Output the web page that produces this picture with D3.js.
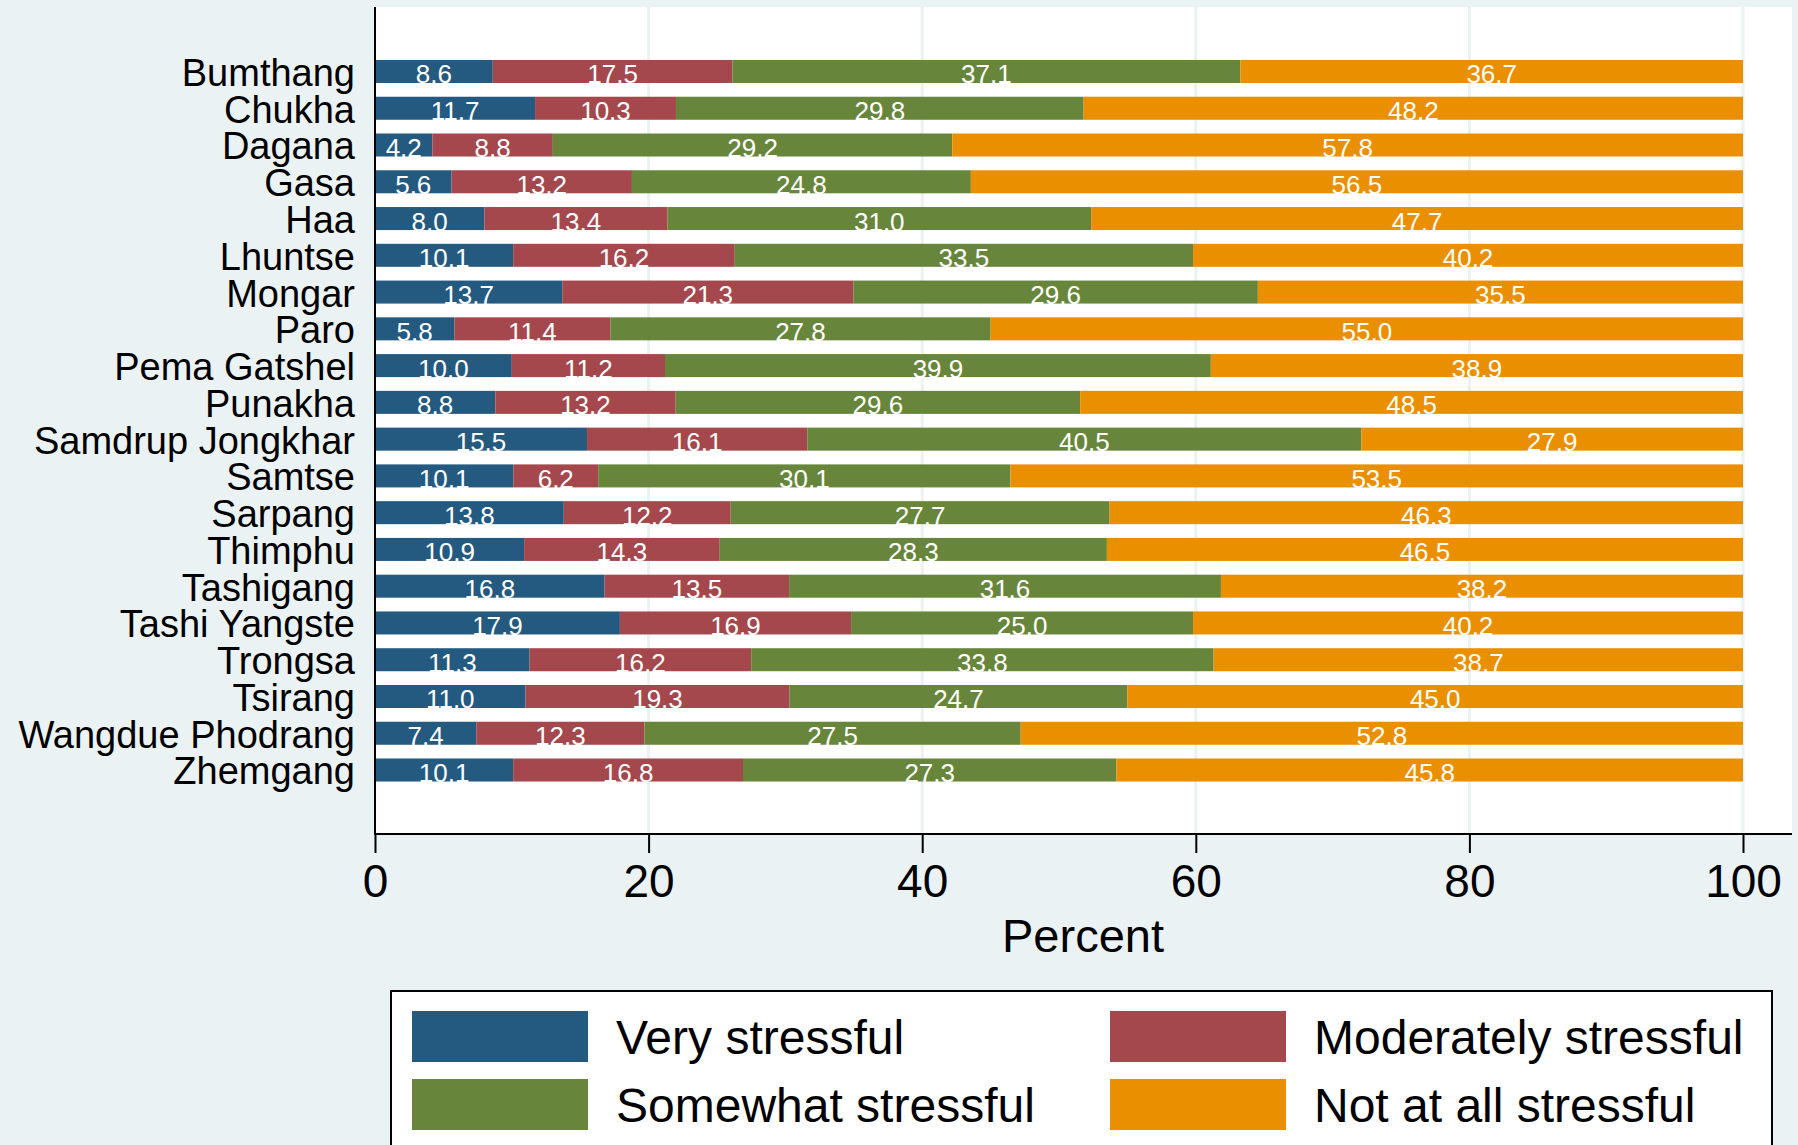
<!DOCTYPE html>
<html>
<head>
<meta charset="utf-8">
<script src="https://cdn.jsdelivr.net/npm/d3@7"></script>
<style>
  html, body { margin: 0; padding: 0; background: #eaf2f3; }
  svg { display: block; font-family: "Liberation Sans", Arial, Helvetica, sans-serif; }
</style>
</head>
<body>
<svg id="chart" width="1798" height="1145"></svg>
<script>
const categories = ["Bumthang","Chukha","Dagana","Gasa","Haa","Lhuntse","Mongar","Paro","Pema Gatshel","Punakha","Samdrup Jongkhar","Samtse","Sarpang","Thimphu","Tashigang","Tashi Yangste","Trongsa","Tsirang","Wangdue Phodrang","Zhemgang"];
const seriesNames = ["Very stressful","Moderately stressful","Somewhat stressful","Not at all stressful"];
const veryStressful       = [8.6,11.7,4.2,5.6,8.0,10.1,13.7,5.8,10.0,8.8,15.5,10.1,13.8,10.9,16.8,17.9,11.3,11.0,7.4,10.1];
const moderatelyStressful = [17.5,10.3,8.8,13.2,13.4,16.2,21.3,11.4,11.2,13.2,16.1,6.2,12.2,14.3,13.5,16.9,16.2,19.3,12.3,16.8];
const somewhatStressful   = [37.1,29.8,29.2,24.8,31.0,33.5,29.6,27.8,39.9,29.6,40.5,30.1,27.7,28.3,31.6,25.0,33.8,24.7,27.5,27.3];
const notAtAllStressful   = [36.7,48.2,57.8,56.5,47.7,40.2,35.5,55.0,38.9,48.5,27.9,53.5,46.3,46.5,38.2,40.2,38.7,45.0,52.8,45.8];
const xTicks = [0,20,40,60,80,100];
const xLabel = "Percent";

const colors = ["#245a80","#a4484e","#67863b","#ea8f00"];
const seriesValues = [veryStressful, moderatelyStressful, somewhatStressful, notAtAllStressful];

const rows = categories.map((c, i) => {
  const r = { cat: c };
  seriesNames.forEach((s, j) => r[s] = seriesValues[j][i]);
  return r;
});
// percentages (rounded in the source) are normalised so each bar spans 0-100
const stacked = d3.stack().keys(seriesNames).offset(d3.stackOffsetExpand)(rows);

const svg = d3.select("#chart");
const plotLeft = 375, plotRight = 1792, plotTop = 7, plotBottom = 834;

const x = d3.scaleLinear().domain([0, 100]).range([375, 1743]);
const y = d3.scaleBand().domain(categories).range([53.1, 788.4]).paddingInner(0.374).paddingOuter(0.187);

// background
svg.append("rect").attr("x",0).attr("y",0).attr("width",1798).attr("height",1145).attr("fill","#eaf2f3");
svg.append("rect").attr("x",plotLeft).attr("y",plotTop).attr("width",plotRight-plotLeft).attr("height",plotBottom-plotTop).attr("fill","#ffffff");

// gridlines
svg.append("g").selectAll("line").data(xTicks.filter(t => t > 0)).join("line")
  .attr("x1", d => x(d)).attr("x2", d => x(d))
  .attr("y1", plotTop).attr("y2", plotBottom)
  .attr("stroke", "#eaf2f3").attr("stroke-width", 3);

// bars
const layer = svg.append("g").selectAll("g").data(stacked).join("g")
  .attr("fill", (d, i) => colors[i]);
layer.selectAll("rect").data(d => d).join("rect")
  .attr("x", d => x(d[0] * 100))
  .attr("width", d => x(d[1] * 100) - x(d[0] * 100))
  .attr("y", d => y(d.data.cat))
  .attr("height", y.bandwidth());

// bar labels
const lab = svg.append("g").attr("fill","#ffffff").attr("font-size", 26).attr("text-anchor","middle");
stacked.forEach(s => {
  lab.selectAll(null).data(s).join("text")
    .attr("x", d => (x(d[0] * 100) + x(d[1] * 100)) / 2)
    .attr("y", d => y(d.data.cat) + y.bandwidth() + 0.5)
    .text(d => d3.format(".1f")(d.data[s.key]));
});

// y axis
const yAxis = d3.axisLeft(y).tickSize(0).tickPadding(20);
const gy = svg.append("g").attr("transform", `translate(${plotLeft},0)`).call(yAxis);
gy.select(".domain").remove();
gy.selectAll("text").attr("font-size", 38).attr("fill","#000").attr("font-family","Liberation Sans, Arial, sans-serif")
  .attr("dy", "0.38em");
svg.append("line").attr("x1", plotLeft).attr("x2", plotLeft).attr("y1", plotTop).attr("y2", plotBottom + 1)
  .attr("stroke","#000").attr("stroke-width",2);

// x axis
const xAxis = d3.axisBottom(x).tickValues(xTicks).tickSize(19).tickPadding(11).tickFormat(d3.format("d"));
const gx = svg.append("g").attr("transform", `translate(0,${plotBottom})`).call(xAxis);
gx.select(".domain").remove();
gx.selectAll(".tick line").attr("stroke","#000").attr("stroke-width",2);
gx.selectAll("text").attr("font-size", 46).attr("fill","#000").attr("font-family","Liberation Sans, Arial, sans-serif");
svg.append("line").attr("x1", plotLeft - 1).attr("x2", plotRight).attr("y1", plotBottom).attr("y2", plotBottom)
  .attr("stroke","#000").attr("stroke-width",2);

svg.append("text").attr("x", 1083).attr("y", 952).attr("text-anchor","middle")
  .attr("font-size", 47).attr("fill","#000").text(xLabel);

// legend
const lg = svg.append("g");
lg.append("rect").attr("x", 391).attr("y", 991).attr("width", 1381).attr("height", 170)
  .attr("fill","#fff").attr("stroke","#000").attr("stroke-width",2);
const legPos = [[412,1011],[1110,1011],[412,1079],[1110,1079]];
seriesNames.forEach((s, i) => {
  const [lx, ly] = legPos[i];
  lg.append("rect").attr("x", lx).attr("y", ly).attr("width", 176).attr("height", 51).attr("fill", colors[i]);
  lg.append("text").attr("x", lx + 204).attr("y", ly + 25.5).attr("dy","0.36em")
    .attr("font-size", 48).attr("fill","#000").text(s);
});
</script>
</body>
</html>
